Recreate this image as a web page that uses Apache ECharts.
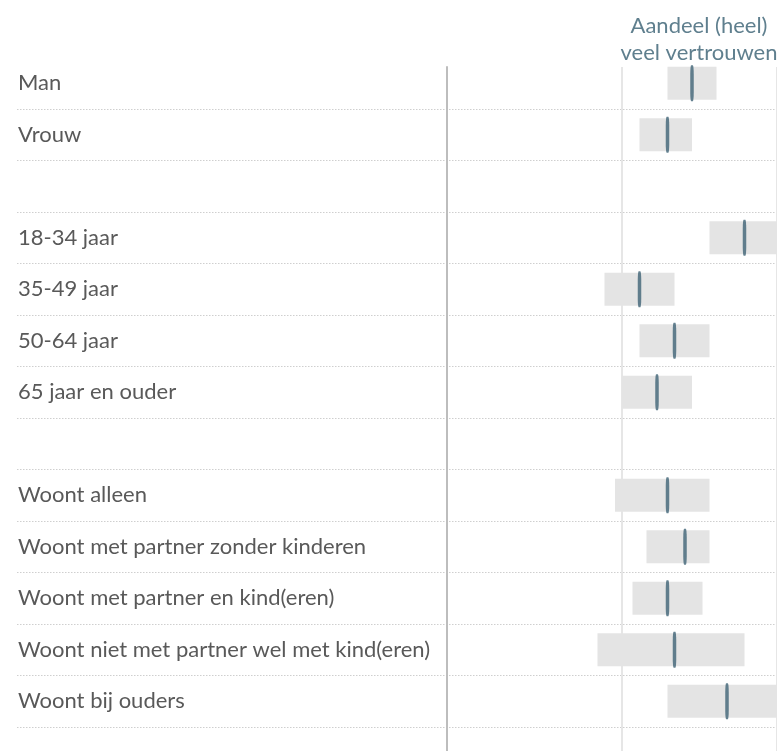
<!DOCTYPE html>
<html>
<head>
<meta charset="utf-8">
<script src="https://cdn.jsdelivr.net/npm/echarts@6/dist/echarts.min.js"></script>
<style>
html,body{margin:0;padding:0;background:#fff;}
#chart{width:777px;height:751px;}
</style>
</head>
<body>
<div id="chart"></div>
<script>
// Row labels (blank rows separate the groups)
const categories = [
  'Man', 'Vrouw', '',
  '18-34 jaar', '35-49 jaar', '50-64 jaar', '65 jaar en ouder', ' ',
  'Woont alleen', 'Woont met partner zonder kinderen', 'Woont met partner en kind(eren)',
  'Woont niet met partner wel met kind(eren)', 'Woont bij ouders'
];
// Share with (very) much trust, in %
const estimate = [70, 63, null, 85, 55, 65, 60, null, 63, 68, 63, 65, 80];
const lower    = [63, 55, null, 75, 45, 55, 50, null, 48, 57, 53, 43, 63];
const upper    = [77, 70, null, 95, 65, 75, 70, null, 75, 75, 73, 85, 97];
const headerText = 'Aandeel (heel)\nveel vertrouwen';

const spans = upper.map((u, i) => (u == null || lower[i] == null) ? '-' : u - lower[i]);
const bases = lower.map(v => v == null ? '-' : v);
const marks = estimate.map(v => v == null ? '-' : v);

// visible part of the value axis (chart is cut off at the right edge)
const X_MAX = 330 / 3.5;

const FONT = 'Lato, "DejaVu Sans", sans-serif';
const chart = echarts.init(document.getElementById('chart'), null, {renderer: 'canvas'});
chart.setOption({
  animation: false,
  backgroundColor: '#fff',
  title: {
    text: headerText,
    left: 694, top: 7, textAlign: 'center',
    textStyle: {color: '#5f7f8e', fontFamily: FONT, fontWeight: 'normal', fontSize: 22, lineHeight: 27}
  },
  grid: [
    {left: 17, right: 0, top: 57.5, height: 669.5},
    {left: 447, right: 0, top: 67, bottom: -20},
    {left: 447, right: 0, top: 57.5, height: 669.5}
  ],
  xAxis: [
    {gridIndex: 0, type: 'value', min: 0, max: 100, show: false},
    {gridIndex: 1, type: 'value', min: 0, max: X_MAX, interval: 50,
     axisLine: {show: false}, axisTick: {show: false}, axisLabel: {show: false},
     splitLine: {show: true, lineStyle: {color: '#e6e6e6', width: 2}}},
    {gridIndex: 2, type: 'value', min: 0, max: X_MAX, show: false}
  ],
  yAxis: [
    {gridIndex: 0, type: 'category', data: categories, inverse: true,
     axisLine: {show: false}, axisTick: {show: false},
     axisLabel: {inside: true, margin: 1, color: '#595959', fontFamily: FONT, fontSize: 22},
     splitLine: {show: true, interval: (i) => i > 0,
                 lineStyle: {color: '#cfcfcf', width: 1, type: [1.5, 1.5]}}},
    {gridIndex: 1, type: 'value', min: 0, max: 1,
     axisLine: {show: true, lineStyle: {color: '#bdbdbd', width: 2}},
     axisTick: {show: false}, axisLabel: {show: false}, splitLine: {show: false}},
    {gridIndex: 2, type: 'category', data: categories, inverse: true, show: false}
  ],
  series: [
    {type: 'bar', xAxisIndex: 2, yAxisIndex: 2, stack: 'ci', data: bases, barWidth: 33,
     itemStyle: {color: 'rgba(0,0,0,0)'}, silent: true},
    {type: 'bar', xAxisIndex: 2, yAxisIndex: 2, stack: 'ci', data: spans, barWidth: 33,
     itemStyle: {color: '#e4e4e4'}},
    {type: 'scatter', xAxisIndex: 2, yAxisIndex: 2, data: marks, symbol: 'roundRect',
     symbolSize: [3.5, 36], itemStyle: {color: '#3e6375'}, z: 5}
  ]
});
</script>
</body>
</html>
